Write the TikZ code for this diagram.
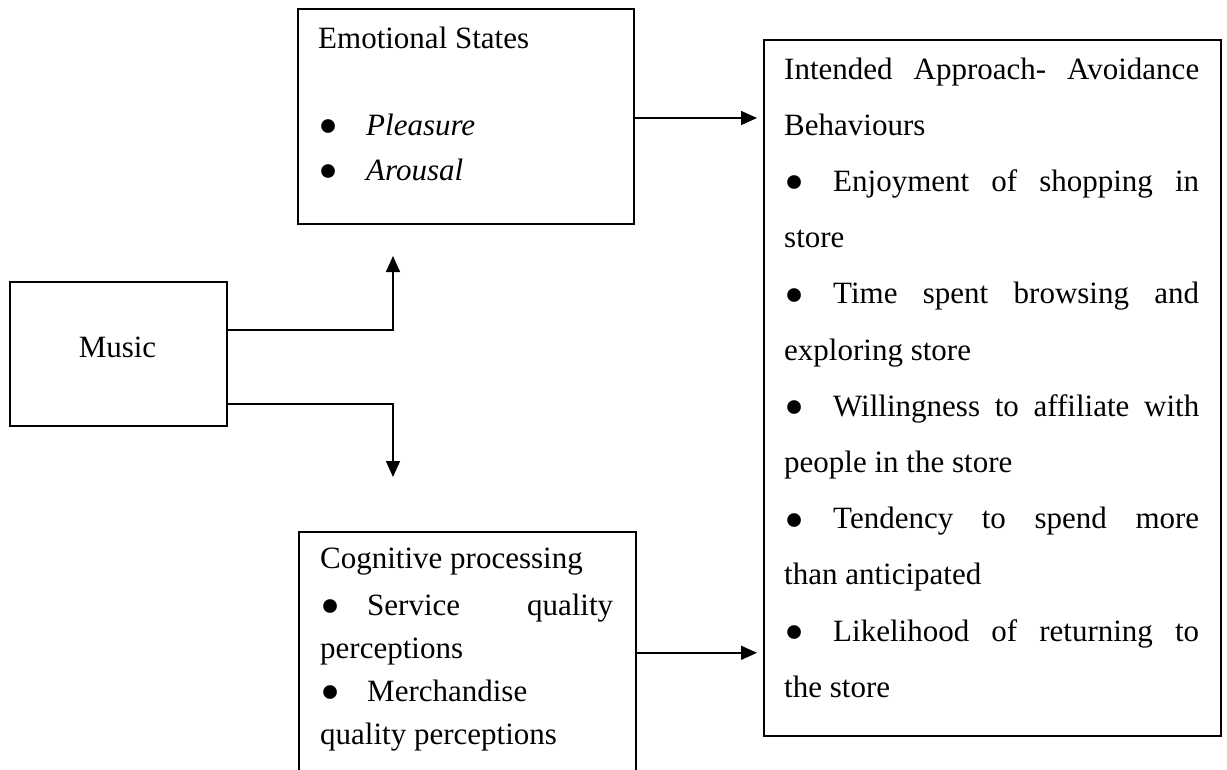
\documentclass[tikz,border=0pt]{standalone}
\usepackage{fontspec}
\usepackage{graphicx}
\setmainfont{Liberation Serif}
\usetikzlibrary{arrows.meta}

% one list line: enlarged bullet, gap, then the item text
\newcommand{\itemline}[2]{\makebox[#1][l]{\raisebox{-10.5pt}[0pt][0pt]{\scalebox{1.85}{•}}}#2}

\begin{document}
\begin{tikzpicture}[x=1pt,y=-1pt,
  frame/.style={draw,line width=1.6pt,rectangle,inner sep=0pt,anchor=north west},
  txt/.style={anchor=base west,inner sep=0pt,font=\fontsize{31}{40}\selectfont},
  arr/.style={line width=1.6pt,-{Triangle[length=16pt,width=14pt]}}]
\useasboundingbox (0,0) rectangle (1227,769);
\clip (0,0) rectangle (1227,769);

% boxes
\node[frame,minimum width=336pt,minimum height=215pt] (emo) at (297,8) {};
\node[frame,minimum width=217pt,minimum height=144pt] (mus) at (9,281) {};
\node[frame,minimum width=337pt,minimum height=242pt] (cog) at (298,531) {};
\node[frame,minimum width=457pt,minimum height=696pt] (beh) at (763,39) {};

% box texts
\node[txt] (emotxt) at (318,48) {\vtop{\hsize=300pt\baselineskip=45pt
  \hbox{Emotional States}\vskip42pt
  \hbox{\itemline{48pt}{\itshape Pleasure}}
  \hbox{\itemline{48pt}{\itshape Arousal}}}};

\node[txt,anchor=base] (mustxt) at (117.5,357) {Music};

\node[txt] (cogtxt) at (320,568) {\vtop{\hsize=293pt\baselineskip=43pt
  \hbox{Cognitive processing}\vskip4pt
  \hbox to\hsize{\itemline{47pt}{Service\hfill quality}}
  \hbox{perceptions}
  \hbox{\itemline{47pt}{Merchandise}}
  \hbox{quality perceptions}}};

\node[txt] (behtxt) at (784,79) {\vtop{\hsize=415pt\baselineskip=56.2pt
  \hbox to\hsize{Intended\hfill Approach-\hfill Avoidance}
  \hbox{Behaviours}
  \hbox to\hsize{\itemline{49pt}{Enjoyment\hfill of\hfill shopping\hfill in}}
  \hbox{store}
  \hbox to\hsize{\itemline{49pt}{Time\hfill spent\hfill browsing\hfill and}}
  \hbox{exploring store}
  \hbox to\hsize{\itemline{49pt}{Willingness\hfill to\hfill affiliate\hfill with}}
  \hbox{people in the store}
  \hbox to\hsize{\itemline{49pt}{Tendency\hfill to\hfill spend\hfill more}}
  \hbox{than anticipated}
  \hbox to\hsize{\itemline{49pt}{Likelihood\hfill of\hfill returning\hfill to}}
  \hbox{the store}}};

% connectors
\coordinate (up) at (393,256);
\coordinate (down) at (393,477);
\draw[arr] (mus.east |- 0,330) -| (up);
\draw[arr] (mus.east |- 0,404) -| (down);
\draw[arr,shorten >=6pt] (emo.east |- 0,118) -- (beh.west |- 0,118);
\draw[arr,shorten >=6pt] (cog.east) -- (cog.east -| beh.west);
\end{tikzpicture}
\end{document}
